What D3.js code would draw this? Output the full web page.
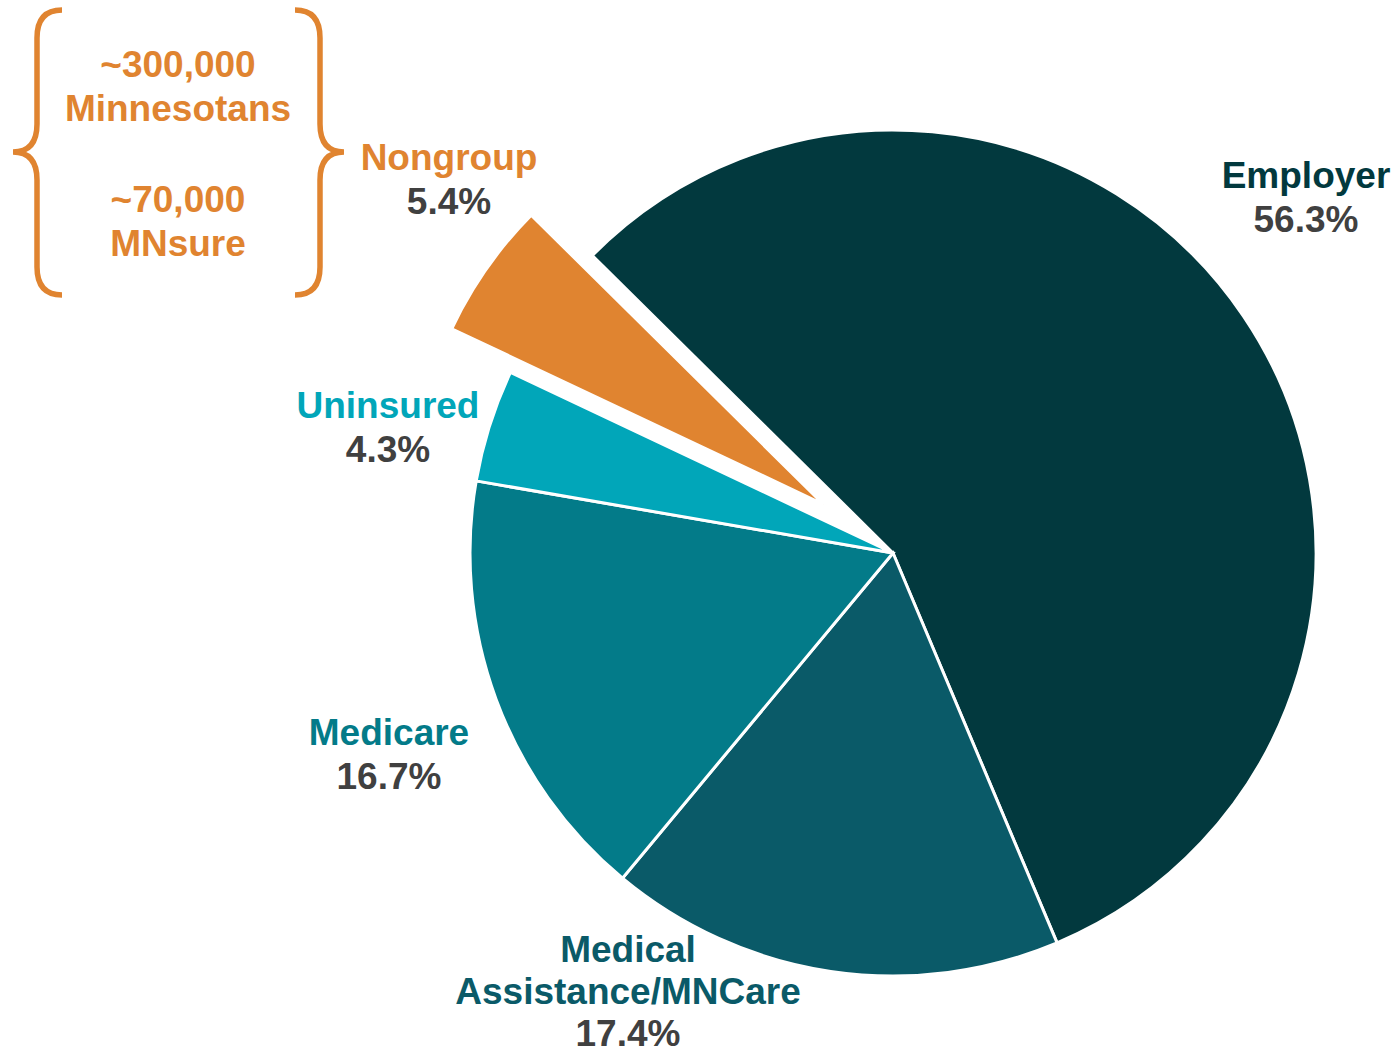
<!DOCTYPE html>
<html>
<head>
<meta charset="utf-8">
<script src="https://cdn.jsdelivr.net/npm/d3@7"></script>
<style>
  html, body { margin: 0; padding: 0; background: #ffffff; }
  svg { display: block; }
  text { font-family: "Liberation Sans", Arial, sans-serif; font-weight: bold; }
</style>
</head>
<body>
<script>
// ---- data ----
const categories = ["Employer", "Medical Assistance/MNCare", "Medicare", "Uninsured", "Nongroup"];
const labelLines = [["Employer"], ["Medical", "Assistance/MNCare"], ["Medicare"], ["Uninsured"], ["Nongroup"]];
const values = [56.3, 17.4, 16.7, 4.3, 5.4];
const colors = ["#02393E", "#0A5A68", "#037B89", "#01A6B9", "#E08430"];
const explodedCategory = "Nongroup";
const braceLines = ["~300,000", "Minnesotans", "~70,000", "MNsure"];

// ---- layout ----
const W = 1396, H = 1055;
const cx = 893, cy = 553, R = 423, Rexp = 411;
const explode = 85;
const startDeg = -45.3;
const fontSize = 37;
const pctColor = "#404040";
// label anchor (centre x, first baseline y, line height)
const labelAnchor = {
  "Employer": [1306, 188, 44],
  "Medical Assistance/MNCare": [628, 962, 42],
  "Medicare": [389, 745, 44],
  "Uninsured": [388, 418, 44],
  "Nongroup": [449, 170, 44]
};

const svg = d3.select("body").append("svg").attr("width", W).attr("height", H);

const rows = categories.map((c, i) => ({ cat: c, value: values[i], color: colors[i], lines: labelLines[i] }));
const start = startDeg * Math.PI / 180;
const pie = d3.pie().sort(null).value(d => d.value).startAngle(start).endAngle(start + 2 * Math.PI);
const arc = d3.arc().innerRadius(0).outerRadius(d => d.data.cat === explodedCategory ? Rexp : R);

const g = svg.append("g").attr("transform", `translate(${cx},${cy})`);
g.selectAll("path").data(pie(rows)).join("path")
  .attr("d", arc)
  .attr("fill", d => d.data.color)
  .attr("stroke", "#ffffff")
  .attr("stroke-width", 3)
  .attr("stroke-linejoin", "miter")
  .attr("transform", d => {
    if (d.data.cat !== explodedCategory) return null;
    const a = (d.startAngle + d.endAngle) / 2;
    return `translate(${explode * Math.sin(a)},${-explode * Math.cos(a)})`;
  });

// labels
rows.forEach(r => {
  const [x, y, lh] = labelAnchor[r.cat];
  const t = svg.append("text").attr("text-anchor", "middle").attr("font-size", fontSize);
  r.lines.forEach((ln, k) => {
    t.append("tspan").attr("x", x).attr("y", y + k * lh).attr("fill", r.color).text(ln);
  });
  t.append("tspan").attr("x", x).attr("y", y + r.lines.length * lh).attr("fill", pctColor)
    .text(r.value.toFixed(1) + "%");
});

// brace annotation
const orange = colors[categories.indexOf("Nongroup")];
const braceL = "M62,10 Q37,10 37,38 L37,124 Q37,152 13,152 Q37,152 37,180 L37,267 Q37,295 62,295";
const braceR = "M295,10 Q320,10 320,38 L320,124 Q320,152 344,152 Q320,152 320,180 L320,267 Q320,295 295,295";
[braceL, braceR].forEach(p => svg.append("path").attr("d", p).attr("fill", "none")
  .attr("stroke", orange).attr("stroke-width", 5.5));
const braceY = [77, 121, 212, 256];
braceLines.forEach((s, i) => {
  svg.append("text").attr("x", 178).attr("y", braceY[i]).attr("text-anchor", "middle")
    .attr("font-size", fontSize).attr("fill", orange).text(s);
});
</script>
</body>
</html>
